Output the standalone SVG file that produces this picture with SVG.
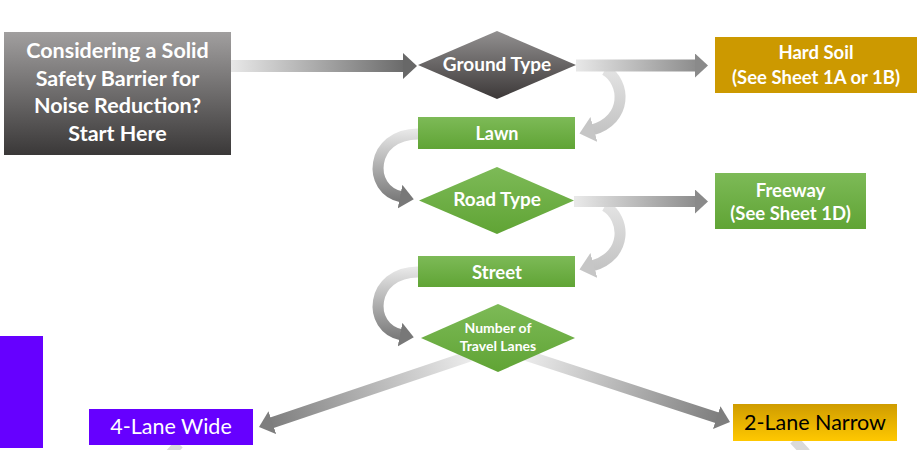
<svg xmlns="http://www.w3.org/2000/svg" width="924" height="450" viewBox="0 0 924 450">
<style>
.t{font-family:Lato,"Open Sans","DejaVu Sans",sans-serif;font-weight:bold;fill:#fff;text-anchor:middle}
.r{font-family:Lato,"Open Sans","DejaVu Sans",sans-serif;font-weight:normal;text-anchor:middle}
.c{fill:none}
</style>
<defs>
<linearGradient id="gStart" x1="0" y1="0" x2="0" y2="1"><stop offset="0" stop-color="#a19f9f"/><stop offset="1" stop-color="#3a3838"/></linearGradient>
<linearGradient id="gGray" x1="0" y1="0" x2="0" y2="1"><stop offset="0" stop-color="#929090"/><stop offset="1" stop-color="#3c3838"/></linearGradient>
<linearGradient id="gGreen" x1="0" y1="0" x2="0" y2="1"><stop offset="0" stop-color="#7dba57"/><stop offset="1" stop-color="#60a435"/></linearGradient>
<linearGradient id="gGold" x1="0" y1="0" x2="0" y2="1"><stop offset="0" stop-color="#cf9c00"/><stop offset="1" stop-color="#ffc800"/></linearGradient>
<linearGradient id="a1" gradientUnits="userSpaceOnUse" x1="231" y1="0" x2="405" y2="0"><stop offset="0" stop-color="#e8e8e8"/><stop offset="1" stop-color="#6a6a6a"/></linearGradient>
<linearGradient id="a2" gradientUnits="userSpaceOnUse" x1="576" y1="0" x2="697" y2="0"><stop offset="0" stop-color="#e8e8e8"/><stop offset="1" stop-color="#8c8c8c"/></linearGradient>
<linearGradient id="rc1" gradientUnits="userSpaceOnUse" x1="0" y1="68" x2="0" y2="132"><stop offset="0" stop-color="#e4e4e4"/><stop offset="1" stop-color="#c4c4c4"/></linearGradient>
<linearGradient id="rc2" gradientUnits="userSpaceOnUse" x1="0" y1="204" x2="0" y2="268"><stop offset="0" stop-color="#e4e4e4"/><stop offset="1" stop-color="#c4c4c4"/></linearGradient>
<linearGradient id="lc1" gradientUnits="userSpaceOnUse" x1="0" y1="130" x2="0" y2="200"><stop offset="0" stop-color="#e8e8e8"/><stop offset="1" stop-color="#7a7a7a"/></linearGradient>
<linearGradient id="lc2" gradientUnits="userSpaceOnUse" x1="0" y1="268" x2="0" y2="338"><stop offset="0" stop-color="#e8e8e8"/><stop offset="1" stop-color="#7a7a7a"/></linearGradient>
<linearGradient id="d1" gradientUnits="userSpaceOnUse" x1="470" y1="356" x2="270" y2="423"><stop offset="0" stop-color="#ececec"/><stop offset="1" stop-color="#7e7e7e"/></linearGradient>
<linearGradient id="d2" gradientUnits="userSpaceOnUse" x1="525" y1="355" x2="719" y2="418"><stop offset="0" stop-color="#ececec"/><stop offset="1" stop-color="#7e7e7e"/></linearGradient>
<marker id="mA" viewBox="0 0 14 26" refX="2" refY="13" markerWidth="14" markerHeight="26" markerUnits="userSpaceOnUse" orient="auto"><path d="M0,0 L14,13 L0,26 Z" fill="#686868"/></marker>
<marker id="mB" viewBox="0 0 13 24" refX="2" refY="12" markerWidth="13" markerHeight="24" markerUnits="userSpaceOnUse" orient="auto"><path d="M0,0 L13,12 L0,24 Z" fill="#8a8a8a"/></marker>
<marker id="mC" viewBox="0 0 15 26" refX="2" refY="13" markerWidth="15" markerHeight="26" markerUnits="userSpaceOnUse" orient="auto"><path d="M0,0 L15,13 L0,26 Z" fill="#c6c6c6"/></marker>
<marker id="mD" viewBox="0 0 14 24" refX="2" refY="12" markerWidth="14" markerHeight="24" markerUnits="userSpaceOnUse" orient="auto"><path d="M0,0 L14,12 L0,24 Z" fill="#787878"/></marker>
<marker id="mE" viewBox="0 0 14 24" refX="2" refY="12" markerWidth="14" markerHeight="24" markerUnits="userSpaceOnUse" orient="auto"><path d="M0,0 L14,12 L0,24 Z" fill="#7e7e7e"/></marker>
</defs>
<rect width="924" height="450" fill="#fff"/>
<rect id="side-bar" x="0" y="336" width="43" height="112" fill="#6600ff"/>
<g id="connectors">
<path class="c" d="M605 70 C626 82,628 120,592 130" stroke="url(#rc1)" stroke-width="11" marker-end="url(#mC)"/>
<path class="c" d="M605 206 C626 218,628 256,592 266" stroke="url(#rc2)" stroke-width="11" marker-end="url(#mC)"/>
<path class="c" d="M231 66 H405" stroke="url(#a1)" stroke-width="12" marker-end="url(#mA)"/>
<path class="c" d="M576 65.5 H697" stroke="url(#a2)" stroke-width="12" marker-end="url(#mB)"/>
<path class="c" d="M574 201.5 H697" stroke="url(#a2)" stroke-width="11" marker-end="url(#mB)"/>
<path class="c" d="M418 134 C370 134,366 190,402 197" stroke="url(#lc1)" stroke-width="11" marker-end="url(#mD)"/>
<path class="c" d="M418 272 C370 272,366 328,402 335" stroke="url(#lc2)" stroke-width="11" marker-end="url(#mD)"/>
<path class="c" d="M470 356 L270.4 423.2" stroke="url(#d1)" stroke-width="11" marker-end="url(#mE)"/>
<path class="c" d="M525 355 L718.6 418.3" stroke="url(#d2)" stroke-width="11" marker-end="url(#mE)"/>
<path class="c" d="M179 444 L168 456" stroke="#dadada" stroke-width="10"/>
<path class="c" d="M794 440 L806 453" stroke="#dadada" stroke-width="10"/>
</g>
<g id="start">
<rect x="4" y="32" width="227" height="123" fill="url(#gStart)"/>
<text class="t" font-size="21.5" x="117.5" y="58">Considering a Solid</text>
<text class="t" font-size="21.5" x="117.5" y="85.5">Safety Barrier for</text>
<text class="t" font-size="21.5" x="117.5" y="113">Noise Reduction?</text>
<text class="t" font-size="21.5" x="117.5" y="140.5">Start Here</text>
</g>
<g id="ground-type">
<polygon points="418,65 497,31 576,65 497,99" fill="url(#gGray)"/>
<text class="t" font-size="19" x="497" y="71">Ground Type</text>
</g>
<g id="hard-soil">
<rect x="715" y="37" width="202" height="56" fill="#cc9900"/>
<text class="t" font-size="18.5" x="816" y="59">Hard Soil</text>
<text class="t" font-size="18.5" x="816" y="84">(See Sheet 1A or 1B)</text>
</g>
<g id="lawn">
<rect x="418" y="117" width="157" height="32" fill="url(#gGreen)"/>
<text class="t" font-size="18" x="497" y="139.5">Lawn</text>
</g>
<g id="road-type">
<polygon points="419,200.5 497,167 574,200.5 497,234" fill="url(#gGreen)"/>
<text class="t" font-size="19" x="497" y="206">Road Type</text>
</g>
<g id="freeway">
<rect x="715" y="173" width="151" height="56" fill="url(#gGreen)"/>
<text class="t" font-size="18.5" x="790.5" y="196.5">Freeway</text>
<text class="t" font-size="18.5" x="790.5" y="219.5">(See Sheet 1D)</text>
</g>
<g id="street">
<rect x="418" y="256" width="157" height="31" fill="url(#gGreen)"/>
<text class="t" font-size="18.5" x="497" y="278.5">Street</text>
</g>
<g id="lanes">
<polygon points="421,338 498,304 575,338 498,372" fill="url(#gGreen)"/>
<text class="t" font-size="14" x="498" y="333">Number of</text>
<text class="t" font-size="14" x="498" y="350.5">Travel Lanes</text>
</g>
<g id="four-lane">
<rect x="89" y="409" width="164" height="36" fill="#6600ff"/>
<text class="r" font-size="21.5" fill="#fff" x="171" y="434">4-Lane Wide</text>
</g>
<g id="two-lane">
<rect x="733" y="404" width="164" height="37" fill="url(#gGold)"/>
<text class="r" font-size="21.5" fill="#000" x="815" y="430">2-Lane Narrow</text>
</g>
</svg>
